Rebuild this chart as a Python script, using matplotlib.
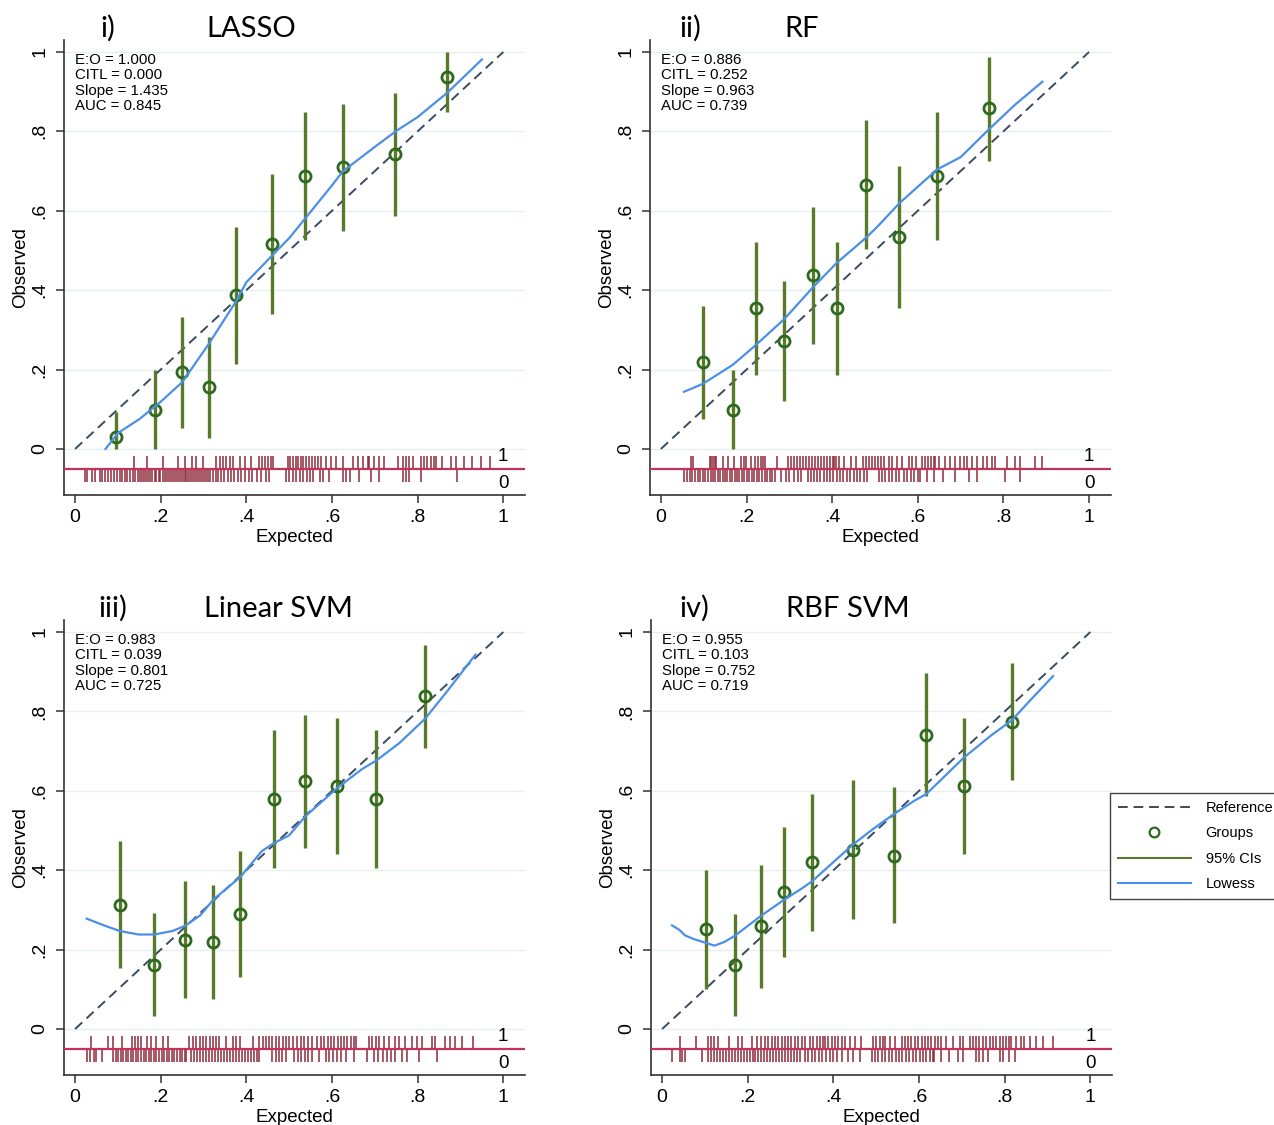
import matplotlib.pyplot as plt
from matplotlib.lines import Line2D

plt.rcParams['font.family'] = ['Liberation Sans', 'DejaVu Sans']

# --- i) LASSO ---
lasso_x = [0.095, 0.187, 0.249, 0.313, 0.376, 0.459, 0.538, 0.625, 0.747, 0.868]
lasso_obs = [0.031, 0.097, 0.193, 0.156, 0.387, 0.516, 0.688, 0.710, 0.742, 0.936]
lasso_lo = [0.0, 0.0, 0.053, 0.028, 0.215, 0.339, 0.527, 0.549, 0.586, 0.848]
lasso_hi = [0.093, 0.199, 0.332, 0.281, 0.559, 0.692, 0.850, 0.870, 0.896, 1.0]
lasso_lw_x = [0.071, 0.10, 0.15, 0.20, 0.25, 0.31, 0.376, 0.40, 0.46, 0.50, 0.54, 0.60,
              0.625, 0.70, 0.75, 0.80, 0.87, 0.95]
lasso_lw_y = [0.0, 0.04, 0.075, 0.119, 0.168, 0.261, 0.372, 0.42, 0.487, 0.531, 0.584, 0.664,
              0.699, 0.761, 0.801, 0.836, 0.898, 0.981]
lasso_rug1 = [0.137, 0.168, 0.206, 0.241, 0.256, 0.272, 0.283, 0.299, 0.330, 0.338, 0.346,
              0.353, 0.361, 0.369, 0.384, 0.396, 0.411, 0.429, 0.436, 0.443, 0.450, 0.457,
              0.462, 0.497, 0.503, 0.509, 0.515, 0.521, 0.528, 0.532, 0.540, 0.547, 0.553,
              0.560, 0.567, 0.575, 0.586, 0.598, 0.609, 0.625, 0.648, 0.660, 0.672, 0.683,
              0.687, 0.699, 0.710, 0.722, 0.753, 0.765, 0.772, 0.780, 0.788, 0.807, 0.815,
              0.822, 0.830, 0.838, 0.842, 0.858, 0.877, 0.889, 0.908, 0.928, 0.947, 0.970]
lasso_rug0 = [0.023, 0.028, 0.040, 0.047, 0.058, 0.063, 0.070, 0.078, 0.085, 0.090, 0.097,
              0.104, 0.110, 0.117, 0.121, 0.128, 0.135, 0.140, 0.146, 0.151, 0.156, 0.160,
              0.165, 0.170, 0.174, 0.180, 0.186, 0.190, 0.195, 0.199, 0.205, 0.210, 0.214,
              0.219, 0.224, 0.228, 0.233, 0.237, 0.242, 0.247, 0.251, 0.256, 0.260, 0.264,
              0.269, 0.273, 0.277, 0.282, 0.286, 0.291, 0.296, 0.301, 0.306, 0.311, 0.316,
              0.322, 0.328, 0.334, 0.341, 0.348, 0.356, 0.364, 0.372, 0.380, 0.388, 0.396,
              0.405, 0.414, 0.424, 0.434, 0.445, 0.454, 0.493, 0.500, 0.508, 0.516, 0.525,
              0.533, 0.541, 0.549, 0.555, 0.571, 0.580, 0.594, 0.625, 0.633, 0.641, 0.664,
              0.691, 0.710, 0.765, 0.772, 0.780, 0.807, 0.893]
lasso_stats = ['1.000', '0.000', '1.435', '0.845']

# --- ii) RF ---
rf_x = [0.098, 0.168, 0.221, 0.288, 0.355, 0.411, 0.478, 0.557, 0.645, 0.766]
rf_obs = [0.219, 0.097, 0.355, 0.273, 0.437, 0.355, 0.666, 0.534, 0.688, 0.858]
rf_lo = [0.075, 0.0, 0.186, 0.121, 0.264, 0.186, 0.504, 0.354, 0.526, 0.726]
rf_hi = [0.361, 0.199, 0.522, 0.423, 0.609, 0.522, 0.829, 0.712, 0.850, 0.987]
rf_lw_x = [0.054, 0.098, 0.168, 0.221, 0.288, 0.355, 0.411, 0.478, 0.504, 0.557, 0.645,
           0.70, 0.766, 0.827, 0.891]
rf_lw_y = [0.144, 0.164, 0.212, 0.261, 0.327, 0.407, 0.469, 0.531, 0.558, 0.619, 0.704,
           0.735, 0.805, 0.867, 0.925]
rf_rug1 = [0.070, 0.075, 0.114, 0.118, 0.122, 0.126, 0.129, 0.145, 0.157, 0.171, 0.188,
           0.194, 0.199, 0.211, 0.219, 0.226, 0.233, 0.238, 0.242, 0.271, 0.298, 0.304,
           0.312, 0.319, 0.326, 0.333, 0.340, 0.347, 0.354, 0.361, 0.366, 0.374, 0.381,
           0.388, 0.395, 0.402, 0.405, 0.409, 0.416, 0.428, 0.443, 0.455, 0.471, 0.478,
           0.485, 0.492, 0.499, 0.506, 0.513, 0.521, 0.533, 0.540, 0.552, 0.564, 0.579,
           0.587, 0.595, 0.610, 0.617, 0.624, 0.631, 0.638, 0.641, 0.649, 0.664, 0.675,
           0.687, 0.698, 0.707, 0.715, 0.726, 0.738, 0.753, 0.761, 0.773, 0.781, 0.808,
           0.827, 0.839, 0.874, 0.889]
rf_rug0 = [0.054, 0.060, 0.067, 0.073, 0.080, 0.086, 0.092, 0.098, 0.104, 0.110, 0.116,
           0.122, 0.127, 0.133, 0.138, 0.144, 0.150, 0.155, 0.161, 0.167, 0.172, 0.178,
           0.183, 0.189, 0.195, 0.200, 0.206, 0.212, 0.218, 0.224, 0.230, 0.236, 0.242,
           0.248, 0.254, 0.260, 0.266, 0.281, 0.292, 0.300, 0.310, 0.320, 0.327, 0.343,
           0.350, 0.357, 0.364, 0.372, 0.380, 0.388, 0.395, 0.403, 0.411, 0.419, 0.426,
           0.434, 0.442, 0.450, 0.458, 0.466, 0.475, 0.482, 0.509, 0.516, 0.524, 0.532,
           0.540, 0.548, 0.556, 0.567, 0.575, 0.583, 0.591, 0.600, 0.606, 0.622, 0.637,
           0.660, 0.688, 0.719, 0.738, 0.804, 0.839]
rf_stats = ['0.886', '0.252', '0.963', '0.739']

# --- iii) Linear SVM ---
lsvm_x = [0.104, 0.185, 0.257, 0.323, 0.386, 0.464, 0.538, 0.611, 0.703, 0.817]
lsvm_obs = [0.312, 0.161, 0.225, 0.218, 0.290, 0.580, 0.624, 0.611, 0.580, 0.838]
lsvm_lo = [0.153, 0.032, 0.079, 0.075, 0.130, 0.405, 0.457, 0.440, 0.405, 0.708]
lsvm_hi = [0.473, 0.291, 0.372, 0.362, 0.448, 0.754, 0.792, 0.783, 0.754, 0.968]
lsvm_lw_x = [0.027, 0.065, 0.104, 0.148, 0.185, 0.228, 0.257, 0.292, 0.323, 0.386, 0.436,
             0.464, 0.50, 0.538, 0.611, 0.669, 0.703, 0.757, 0.817, 0.869, 0.935]
lsvm_lw_y = [0.278, 0.262, 0.247, 0.238, 0.238, 0.247, 0.260, 0.286, 0.326, 0.383, 0.448,
             0.468, 0.488, 0.536, 0.606, 0.654, 0.676, 0.720, 0.781, 0.851, 0.943]
lsvm_rug1 = [0.036, 0.078, 0.089, 0.109, 0.132, 0.140, 0.147, 0.155, 0.167, 0.178, 0.190,
             0.205, 0.217, 0.267, 0.275, 0.283, 0.291, 0.299, 0.306, 0.314, 0.322, 0.329,
             0.337, 0.353, 0.368, 0.376, 0.384, 0.415, 0.430, 0.438, 0.446, 0.454, 0.461,
             0.469, 0.477, 0.485, 0.492, 0.500, 0.508, 0.519, 0.527, 0.535, 0.543, 0.554,
             0.566, 0.574, 0.582, 0.590, 0.597, 0.605, 0.613, 0.621, 0.628, 0.636, 0.644,
             0.652, 0.655, 0.686, 0.694, 0.702, 0.709, 0.721, 0.733, 0.748, 0.756, 0.771,
             0.787, 0.798, 0.810, 0.833, 0.841, 0.864, 0.876, 0.888, 0.903, 0.930]
lsvm_rug0 = [0.027, 0.035, 0.043, 0.050, 0.062, 0.089, 0.095, 0.101, 0.107, 0.113, 0.119,
             0.124, 0.130, 0.136, 0.142, 0.148, 0.154, 0.160, 0.166, 0.172, 0.178, 0.184,
             0.190, 0.196, 0.202, 0.208, 0.214, 0.220, 0.226, 0.232, 0.238, 0.244, 0.250,
             0.256, 0.260, 0.271, 0.278, 0.285, 0.292, 0.299, 0.306, 0.313, 0.320, 0.327,
             0.334, 0.341, 0.348, 0.355, 0.362, 0.369, 0.376, 0.383, 0.390, 0.397, 0.404,
             0.411, 0.418, 0.425, 0.430, 0.461, 0.469, 0.476, 0.483, 0.492, 0.512, 0.520,
             0.528, 0.536, 0.544, 0.554, 0.570, 0.585, 0.594, 0.602, 0.611, 0.620, 0.632,
             0.651, 0.682, 0.698, 0.708, 0.718, 0.728, 0.738, 0.748, 0.764, 0.775, 0.802,
             0.845]
lsvm_stats = ['0.983', '0.039', '0.801', '0.725']

# --- iv) RBF SVM ---
rbf_x = [0.102, 0.170, 0.232, 0.284, 0.351, 0.446, 0.542, 0.617, 0.705, 0.816]
rbf_obs = [0.251, 0.162, 0.259, 0.344, 0.420, 0.452, 0.437, 0.741, 0.613, 0.774]
rbf_lo = [0.102, 0.033, 0.103, 0.181, 0.246, 0.277, 0.266, 0.587, 0.441, 0.628]
rbf_hi = [0.400, 0.290, 0.412, 0.508, 0.592, 0.628, 0.610, 0.897, 0.783, 0.921]
rbf_lw_x = [0.023, 0.040, 0.053, 0.075, 0.102, 0.122, 0.145, 0.170, 0.232, 0.284, 0.329,
            0.351, 0.446, 0.494, 0.542, 0.589, 0.617, 0.705, 0.770, 0.816, 0.857, 0.913]
rbf_lw_y = [0.261, 0.250, 0.236, 0.226, 0.217, 0.210, 0.219, 0.235, 0.286, 0.325, 0.356,
            0.373, 0.465, 0.505, 0.542, 0.575, 0.592, 0.684, 0.741, 0.777, 0.825, 0.889]
rbf_rug1 = [0.042, 0.078, 0.108, 0.113, 0.120, 0.131, 0.155, 0.178, 0.186, 0.209, 0.221,
            0.232, 0.240, 0.248, 0.256, 0.263, 0.271, 0.279, 0.287, 0.294, 0.302, 0.310,
            0.318, 0.326, 0.333, 0.345, 0.353, 0.361, 0.368, 0.376, 0.380, 0.388, 0.396,
            0.403, 0.411, 0.419, 0.427, 0.438, 0.450, 0.465, 0.493, 0.500, 0.508, 0.516,
            0.520, 0.531, 0.543, 0.559, 0.567, 0.574, 0.582, 0.590, 0.598, 0.606, 0.613,
            0.621, 0.629, 0.637, 0.645, 0.652, 0.664, 0.679, 0.695, 0.702, 0.718, 0.726,
            0.734, 0.741, 0.749, 0.757, 0.765, 0.773, 0.780, 0.788, 0.796, 0.804, 0.811,
            0.815, 0.827, 0.838, 0.846, 0.858, 0.873, 0.889, 0.912]
rbf_rug0 = [0.023, 0.042, 0.047, 0.054, 0.094, 0.106, 0.113, 0.120, 0.127, 0.134, 0.141,
            0.148, 0.155, 0.162, 0.169, 0.176, 0.183, 0.190, 0.197, 0.204, 0.211, 0.218,
            0.225, 0.232, 0.239, 0.246, 0.253, 0.260, 0.267, 0.274, 0.281, 0.288, 0.295,
            0.302, 0.309, 0.316, 0.323, 0.333, 0.341, 0.349, 0.358, 0.366, 0.374, 0.383,
            0.391, 0.400, 0.409, 0.419, 0.434, 0.446, 0.462, 0.489, 0.497, 0.505, 0.513,
            0.521, 0.529, 0.537, 0.545, 0.553, 0.561, 0.569, 0.577, 0.585, 0.593, 0.601,
            0.609, 0.617, 0.625, 0.633, 0.636, 0.652, 0.671, 0.691, 0.702, 0.733, 0.741,
            0.749, 0.761, 0.788, 0.796, 0.811, 0.823]
rbf_stats = ['0.955', '0.103', '0.752', '0.719']

tick_vals = [0, 0.2, 0.4, 0.6, 0.8, 1]
tick_labels = ['0', '.2', '.4', '.6', '.8', '1']
stat_names = ['E:O', 'CITL', 'Slope', 'AUC']

panels = [
    ('i)', 'LASSO', lasso_x, lasso_obs, lasso_lo, lasso_hi, lasso_lw_x, lasso_lw_y,
     lasso_rug1, lasso_rug0, lasso_stats),
    ('ii)', 'RF', rf_x, rf_obs, rf_lo, rf_hi, rf_lw_x, rf_lw_y, rf_rug1, rf_rug0, rf_stats),
    ('iii)', 'Linear SVM', lsvm_x, lsvm_obs, lsvm_lo, lsvm_hi, lsvm_lw_x, lsvm_lw_y,
     lsvm_rug1, lsvm_rug0, lsvm_stats),
    ('iv)', 'RBF SVM', rbf_x, rbf_obs, rbf_lo, rbf_hi, rbf_lw_x, rbf_lw_y,
     rbf_rug1, rbf_rug0, rbf_stats),
]

# Achsenpositionen (links, unten) in Figurenkoordinaten
axes_pos = [(0.0502, 0.560), (0.510, 0.560), (0.0502, 0.0444), (0.511, 0.0444)]
title_pos = [(0.079, 0.162, 0.967), (0.533, 0.616, 0.967),
             (0.077, 0.160, 0.4516), (0.533, 0.617, 0.4516)]

c_ref = '#3a4b5e'
c_ci = '#5a7a2b'
c_pt = '#2d6a1e'
c_lowess = '#4b8fe8'
c_rugline = '#c3325a'
c_rug = '#8b2636'
c_grid = '#e6f0f1'
c_axis = '#333333'

fig = plt.figure(figsize=(12.74, 11.25), dpi=100)

for (lab, name, gx, obs, lo, hi, lwx, lwy, r1, r0, stats), (l, b), (tx1, tx2, ty) in zip(
        panels, axes_pos, title_pos):
    ax = fig.add_axes([l, b, 0.362, 0.4044])

    for t in tick_vals:
        ax.axhline(t, color=c_grid, lw=1.0, zorder=0)

    ax.plot([0, 1], [0, 1], ls=(0, (5, 3)), color=c_ref, lw=1.4, zorder=2)
    ax.vlines(gx, lo, hi, color=c_ci, lw=2.4, zorder=3)
    ax.plot(gx, obs, 'o', mfc='none', mec=c_pt, mew=2.0, ms=8, zorder=4)
    ax.plot(lwx, lwy, color=c_lowess, lw=1.6, zorder=5)

    # Rug: Ereignisse (1) oben, Nicht-Ereignisse (0) unten
    ax.axhline(-0.05, color=c_rugline, lw=1.6, zorder=3)
    ax.vlines(r1, -0.05, -0.018, color=c_rug, lw=1.2, alpha=0.9, zorder=2)
    ax.vlines(r0, -0.083, -0.05, color=c_rug, lw=1.2, alpha=0.9, zorder=2)
    ax.text(1.0, -0.02, '1', ha='center', va='center', fontsize=13.5)
    ax.text(1.0, -0.088, '0', ha='center', va='center', fontsize=13.5)

    txt = '\n'.join(f'{n} = {v}' for n, v in zip(stat_names, stats))
    ax.text(0.0, 0.998, txt, ha='left', va='top', fontsize=10.8, linespacing=1.13)

    ax.set_xlim(-0.026, 1.051)
    ax.set_ylim(-0.116, 1.03)
    ax.set_xticks(tick_vals)
    ax.set_xticklabels(tick_labels, fontsize=14)
    ax.set_yticks(tick_vals)
    ax.set_yticklabels(tick_labels, fontsize=14, rotation=90, va='center')
    ax.tick_params(axis='both', direction='out', length=6, width=1.1, color=c_axis)
    ax.tick_params(axis='x', pad=4)
    ax.tick_params(axis='y', pad=5)
    ax.set_xlabel('Expected', fontsize=13.5, labelpad=2)
    ax.set_ylabel('Observed', fontsize=13.5, labelpad=2)

    for s in ['top', 'right']:
        ax.spines[s].set_visible(False)
    for s in ['left', 'bottom']:
        ax.spines[s].set_color(c_axis)
        ax.spines[s].set_linewidth(1.2)

    fig.text(tx1, ty, lab, fontsize=21, family=['Lato', 'DejaVu Sans'], va='baseline')
    fig.text(tx2, ty, name, fontsize=21, family=['Lato', 'DejaVu Sans'], va='baseline')

handles = [
    Line2D([], [], ls=(0, (5, 3)), color=c_ref, lw=1.4),
    Line2D([], [], ls='none', marker='o', mfc='none', mec=c_pt, mew=1.6, ms=7),
    Line2D([], [], color=c_ci, lw=1.5),
    Line2D([], [], color=c_lowess, lw=1.5),
]
fig.legend(handles, ['Reference', 'Groups', '95% CIs', 'Lowess'],
           loc='upper left', bbox_to_anchor=(1110 / 1274, 1 - 793 / 1125),
           fontsize=10.5, handlelength=5.0, handletextpad=1.0, labelspacing=0.78,
           borderpad=0.55, borderaxespad=0, fancybox=False, framealpha=1,
           edgecolor='#444444')

fig.savefig('out.png', dpi=100)
